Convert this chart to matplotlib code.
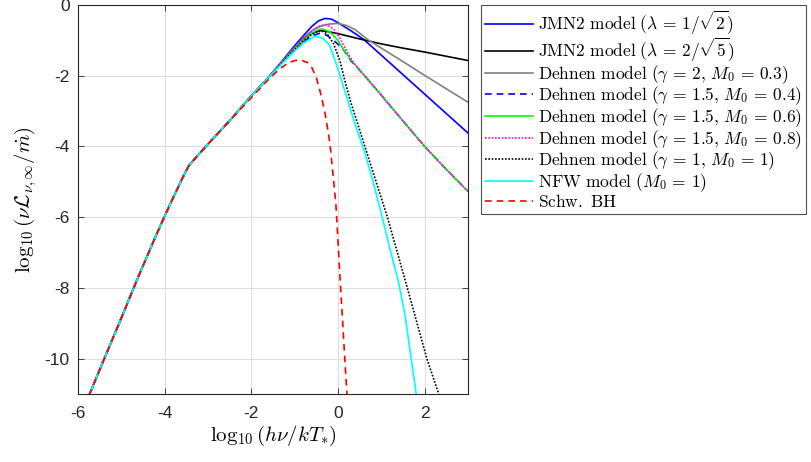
import matplotlib
matplotlib.use("Agg")
import matplotlib.pyplot as plt
import numpy as np

plt.rcParams['font.family'] = ['Liberation Sans', 'DejaVu Sans']
plt.rcParams['mathtext.fontset'] = 'cm'

# shared low-energy branch (all models coincide here)
x_low = [-5.85, -5.4, -5.0, -4.6, -4.2, -4.0, -3.8, -3.6, -3.45, -3.3, -3.1, -2.9, -2.5, -2.0, -1.6]
y_low = [-11.35, -10.02, -8.85, -7.66, -6.52, -5.97, -5.44, -4.92, -4.56, -4.34, -4.07, -3.8, -3.27, -2.57, -2.04]

# high-energy branches of each model
x_jmn_a = [-1.3, -1.0, -0.8, -0.6, -0.45, -0.3, -0.15, 0.0, 0.3, 0.6, 1.0, 1.5, 2.0, 2.5, 3.0]
y_jmn_a = [-1.6, -1.15, -0.87, -0.6, -0.45, -0.38, -0.4, -0.5, -0.73, -0.98, -1.42, -1.97, -2.52, -3.07, -3.62]

x_jmn_b = [-1.3, -1.0, -0.8, -0.6, -0.4, -0.2, 0.0, 0.5, 1.0, 1.5, 2.0, 2.5, 3.0]
y_jmn_b = [-1.64, -1.24, -0.98, -0.8, -0.72, -0.76, -0.81, -0.96, -1.1, -1.22, -1.33, -1.45, -1.57]

x_deh_20 = [-1.3, -1.0, -0.8, -0.6, -0.4, -0.2, 0.0, 0.2, 0.4, 0.7, 1.0, 1.5, 2.0, 2.5, 3.0]
y_deh_20 = [-1.62, -1.2, -0.93, -0.73, -0.6, -0.54, -0.52, -0.58, -0.7, -0.99, -1.22, -1.6, -1.99, -2.37, -2.75]

tail_x = [0.6, 1.0, 1.5, 2.0, 2.5, 3.0]
tail_y = [-1.98, -2.55, -3.28, -4.0, -4.65, -5.27]

x_deh_04 = [-1.3, -1.0, -0.8, -0.6, -0.42, -0.25, -0.1, 0.1, 0.3] + tail_x
y_deh_04 = [-1.65, -1.28, -1.05, -0.87, -0.8, -0.86, -1.0, -1.22, -1.58] + tail_y

x_deh_06 = [-1.3, -1.0, -0.8, -0.6, -0.45, -0.36, -0.2, 0.0, 0.15, 0.3] + tail_x
y_deh_06 = [-1.64, -1.25, -1.0, -0.8, -0.7, -0.68, -0.75, -1.0, -1.3, -1.55] + tail_y

x_deh_08 = [-1.3, -1.0, -0.8, -0.6, -0.45, -0.28, -0.1, 0.05, 0.2, 0.35] + tail_x
y_deh_08 = [-1.63, -1.22, -0.95, -0.72, -0.6, -0.55, -0.68, -0.95, -1.3, -1.62] + tail_y

x_deh_10 = [-1.3, -1.0, -0.8, -0.6, -0.5, -0.38, -0.25, -0.1, 0.05, 0.15, 0.28, 0.62, 1.14, 1.6, 2.05, 2.38]
y_deh_10 = [-1.65, -1.27, -1.02, -0.83, -0.76, -0.73, -0.82, -1.1, -1.6, -2.1, -2.69, -4.0, -6.0, -8.0, -10.0, -11.2]

x_nfw = [-1.3, -1.0, -0.8, -0.6, -0.5, -0.35, -0.2, -0.1, 0.05, 0.2, 0.4, 0.6, 0.8, 1.0, 1.2, 1.4, 1.55, 1.7, 1.84]
y_nfw = [-1.67, -1.3, -1.08, -0.93, -0.88, -0.95, -1.12, -1.45, -2.0, -2.6, -3.4, -4.1, -4.95, -5.9, -6.9, -7.85, -8.8, -10.1, -11.3]

x_bh = [-2.2, -2.0, -1.6, -1.34, -1.15, -1.0, -0.85, -0.7, -0.6, -0.5, -0.4, -0.3, -0.22, -0.18, -0.05, 0.06, 0.22]
y_bh = [-2.88, -2.62, -2.1, -1.8, -1.64, -1.57, -1.56, -1.63, -1.78, -2.05, -2.5, -3.06, -3.63, -4.0, -5.6, -8.0, -11.3]

models = [
    (x_jmn_a, y_jmn_a, dict(color='#0000ff', ls='-'), r'$\mathrm{JMN2\ model\ }(\lambda \,=\, 1/\sqrt{2})$'),
    (x_jmn_b, y_jmn_b, dict(color='black', ls='-'), r'$\mathrm{JMN2\ model\ }(\lambda \,=\, 2/\sqrt{5})$'),
    (x_deh_20, y_deh_20, dict(color='#808080', ls='-'), r'$\mathrm{Dehnen\ model\ }(\gamma \,=\, 2,\, M_0 \,=\, 0.3)$'),
    (x_deh_04, y_deh_04, dict(color='#0000ff', ls=(0, (4, 3))), r'$\mathrm{Dehnen\ model\ }(\gamma \,=\, 1.5,\, M_0 \,=\, 0.4)$'),
    (x_deh_06, y_deh_06, dict(color='#00ff00', ls='-'), r'$\mathrm{Dehnen\ model\ }(\gamma \,=\, 1.5,\, M_0 \,=\, 0.6)$'),
    (x_deh_08, y_deh_08, dict(color='#ff00ff', ls=(0, (1, 1))), r'$\mathrm{Dehnen\ model\ }(\gamma \,=\, 1.5,\, M_0 \,=\, 0.8)$'),
    (x_deh_10, y_deh_10, dict(color='black', ls=(0, (1, 1))), r'$\mathrm{Dehnen\ model\ }(\gamma \,=\, 1,\, M_0 \,=\, 1)$'),
    (x_nfw, y_nfw, dict(color='#00ffff', ls='-'), r'$\mathrm{NFW\ model\ }(M_0 \,=\, 1)$'),
    (x_bh, y_bh, dict(color='#ff0000', ls=(0, (4, 3))), r'$\mathrm{Schw.\ BH}$'),
]

fig = plt.figure(figsize=(8.11, 4.62), dpi=100)
ax = fig.add_axes([78 / 811, 1 - 394 / 462, 390 / 811, 389 / 462])

for i, (xs, ys, style, label) in enumerate(models):
    if i == len(models) - 1:
        xx = np.array(x_low[:-3] + xs)
        yy = np.array(y_low[:-3] + ys)
    else:
        xx = np.array(x_low + xs)
        yy = np.array(y_low + ys)
    ax.plot(xx, yy, lw=1.2, label=label, **style)

ax.set_xlim(-6, 3)
ax.set_ylim(-11, 0)
ax.set_xticks([-6, -4, -2, 0, 2])
ax.set_yticks([-10, -8, -6, -4, -2, 0])
ax.set_xticklabels(['-6', '-4', '-2', '0', '2'])
ax.set_yticklabels(['-10', '-8', '-6', '-4', '-2', '0'])
ax.grid(True, color='#dedede', lw=0.8)
ax.set_axisbelow(True)
ax.tick_params(direction='in', length=4, width=0.6, color='#262626', labelsize=12.5,
               labelcolor='#262626', pad=6, top=True, right=True)
ax.tick_params(axis='x', pad=9)
for s in ax.spines.values():
    s.set_color('#262626')
    s.set_linewidth(0.8)

ax.set_xlabel(r'$\log_{10}(h\nu/kT_{*})$', fontsize=15, labelpad=2)
ax.set_ylabel(r'$\log_{10}(\nu\mathcal{L}_{\nu,\infty}/\dot{m})$', fontsize=15, labelpad=4)

leg = fig.legend(loc='upper left', bbox_to_anchor=(481 / 811, 1 - 5 / 462), fontsize=12.5,
                 frameon=True, fancybox=False, edgecolor='#262626', handlelength=2.8,
                 handletextpad=0.25, labelspacing=-0.06, borderpad=0.22, borderaxespad=0)
leg.get_frame().set_linewidth(0.8)

fig.savefig('out.png', dpi=100)
